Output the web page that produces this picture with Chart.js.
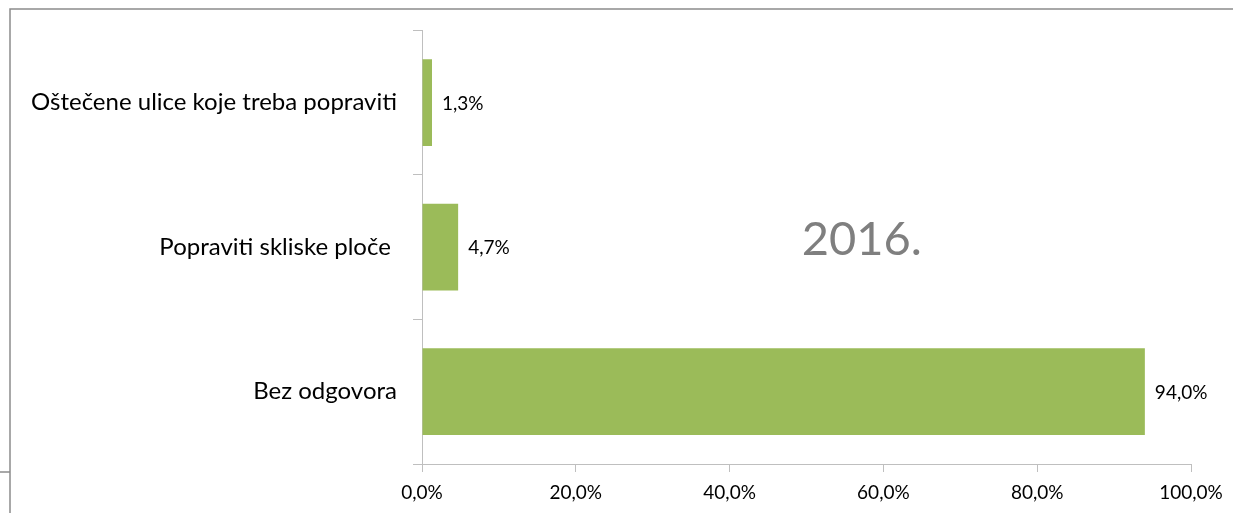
<!DOCTYPE html>
<html>
<head>
<meta charset="utf-8">
<script src="https://cdn.jsdelivr.net/npm/chart.js@4.4.1/dist/chart.umd.min.js"></script>
<style>
  html, body { margin: 0; padding: 0; background: #fff; }
  #wrap { width: 1234px; height: 513px; }
</style>
</head>
<body>
<div id="wrap"><canvas id="barChart" width="1234" height="513"></canvas></div>
<script>
const categories = ['Oštečene ulice koje treba popraviti', 'Popraviti skliske ploče ', 'Bez odgovora'];
const shares = [1.3, 4.7, 94.0];
const axisTicks = [0, 20, 40, 60, 80, 100];
const yearLabel = '2016.';

const fontFamily = 'Lato, "Open Sans", sans-serif';
const axisGray = '#bfbfbf';

function pct(v) {
    return v.toFixed(1).replace('.', ',') + '%';
}

// frame lines around the slide area plus the year caption
const decorPlugin = {
    id: 'decor',
    beforeDraw(chart) {
        const ctx = chart.ctx;
        ctx.save();
        ctx.strokeStyle = '#8c8c8c';
        ctx.lineWidth = 1.5;
        ctx.beginPath();
        ctx.moveTo(10, 513);
        ctx.lineTo(10, 9);
        ctx.lineTo(1233, 9);
        ctx.moveTo(0, 472);
        ctx.lineTo(10, 472);
        ctx.stroke();
        ctx.restore();
    },
    afterDraw(chart) {
        const ctx = chart.ctx;
        const area = chart.chartArea;
        ctx.save();
        ctx.fillStyle = '#7f7f7f';
        ctx.font = '47px ' + fontFamily;
        ctx.textAlign = 'center';
        ctx.textBaseline = 'middle';
        ctx.fillText(yearLabel, area.left + (area.right - area.left) * 0.572, 240);
        ctx.restore();
    }
};

// value labels just past the end of each bar
const valueLabels = {
    id: 'valueLabels',
    afterDatasetsDraw(chart) {
        const ctx = chart.ctx;
        const meta = chart.getDatasetMeta(0);
        ctx.save();
        ctx.fillStyle = '#000';
        ctx.font = '19px ' + fontFamily;
        ctx.textAlign = 'left';
        ctx.textBaseline = 'middle';
        meta.data.forEach(function (bar, i) {
            ctx.fillText(pct(shares[i]), bar.x + 10, bar.y + 1);
        });
        ctx.restore();
    }
};

let chart = new Chart(document.getElementById('barChart').getContext('2d'), {
    type: 'bar',
    plugins: [decorPlugin, valueLabels],
    data: {
        labels: categories,
        datasets: [{
            data: shares,
            backgroundColor: '#9bbb59',
            borderWidth: 0,
            barPercentage: 0.6,
            categoryPercentage: 1.0
        }]
    },
    options: {
        indexAxis: 'y',
        responsive: false,
        animation: false,
        layout: { padding: { top: 29, right: 43, left: 0, bottom: 0 } },
        plugins: {
            legend: { display: false },
            tooltip: { enabled: false }
        },
        scales: {
            x: {
                min: 0,
                max: 100,
                afterBuildTicks(scale) {
                    scale.ticks = axisTicks.map(v => ({ value: v }));
                },
                afterFit(scale) { scale.height = 49; },
                grid: {
                    drawOnChartArea: false,
                    drawTicks: true,
                    tickLength: 8,
                    color: axisGray
                },
                border: { color: axisGray, width: 1 },
                ticks: {
                    color: '#000',
                    padding: 9,
                    font: { family: fontFamily, size: 19 },
                    callback: v => pct(v)
                }
            },
            y: {
                afterFit(scale) { scale.width = 422; },
                grid: {
                    offset: true,
                    drawOnChartArea: false,
                    drawTicks: true,
                    tickLength: 9,
                    color: axisGray
                },
                border: { color: axisGray, width: 1 },
                ticks: {
                    color: '#000',
                    padding: 16,
                    font: { family: fontFamily, size: 24 }
                }
            }
        }
    }
});
</script>
</body>
</html>
